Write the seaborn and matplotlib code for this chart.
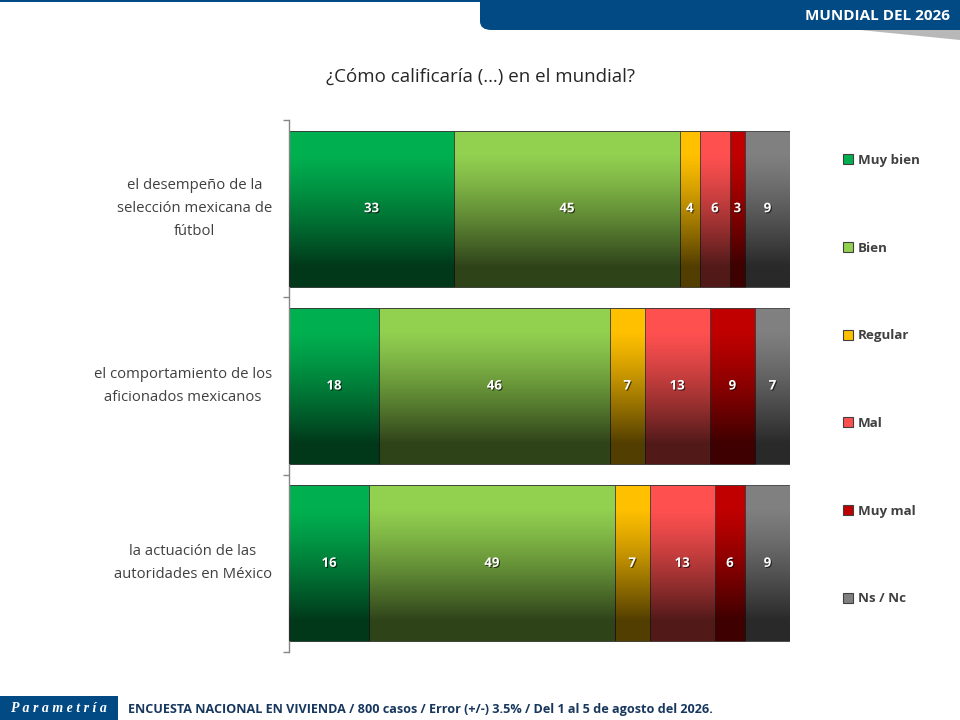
import numpy as np
import pandas as pd
import matplotlib
matplotlib.use("Agg")
import matplotlib.pyplot as plt
import matplotlib.patheffects as pe
from matplotlib.patches import FancyBboxPatch, Rectangle, Patch, Polygon
import seaborn as sns

# data
preguntas = ["el desempeño de la\nselección mexicana de\nfútbol",
             "el comportamiento de los\naficionados mexicanos",
             "la actuación de las\nautoridades en México"]
respuestas = ["Muy bien", "Bien", "Regular", "Mal", "Muy mal", "Ns / Nc"]
muy_bien = [33, 18, 16]
bien = [45, 46, 49]
regular = [4, 7, 7]
mal = [6, 13, 13]
muy_mal = [3, 9, 6]
ns_nc = [9, 7, 9]
colores = ["#00B050", "#92D050", "#FFC000", "#FF5050", "#C00000", "#808080"]

titulo = "¿Cómo calificaría (…) en el mundial?"
banner = "MUNDIAL DEL 2026"
pie = "ENCUESTA NACIONAL EN VIVIENDA / 800 casos / Error (+/-) 3.5% / Del 1 al 5 de agosto del 2026."

df = pd.DataFrame({"pregunta": preguntas, "Muy bien": muy_bien, "Bien": bien,
                   "Regular": regular, "Mal": mal, "Muy mal": muy_mal, "Ns / Nc": ns_nc})
cum = df[respuestas].cumsum(axis=1)

sns.set_style("white")
plt.rcParams["font.family"] = ["Open Sans", "DejaVu Sans"]

fig = plt.figure(figsize=(9.6, 7.2), dpi=100)
fig.patch.set_facecolor("white")

ax = fig.add_axes([289 / 960, 1 - 652 / 720, (790 - 289) / 960, (652 - 120) / 720])
ax.patch.set_alpha(0)

# stacked bars: draw cumulative totals back to front
for r, c in zip(respuestas[::-1], colores[::-1]):
    tmp = pd.DataFrame({"pregunta": preguntas, "valor": cum[r]})
    sns.barplot(data=tmp, x="valor", y="pregunta", color=c, width=0.88,
                saturation=1, errorbar=None, orient="h", ax=ax,
                edgecolor="#3a3a3a", linewidth=0.6)

# darkening gradient over each row
t = np.linspace(0, 1, 256)
alpha = 0.68 * np.clip((t - 0.15) / 0.72, 0, 1) ** 1.2
grad = np.zeros((256, 1, 4))
grad[:, 0, 3] = alpha
for p in ax.containers[0]:
    x0, y0, w, h = p.get_x(), p.get_y(), p.get_width(), p.get_height()
    ax.imshow(grad, extent=(x0, x0 + w, y0 + h, y0), origin="upper",
              aspect="auto", zorder=3, interpolation="bilinear")

ax.set_xlim(0, 100)
ax.set_ylim(2.5, -0.5)

# value labels
for i in range(len(preguntas)):
    for r in respuestas:
        v = df.loc[i, r]
        xc = cum.loc[i, r] - v / 2
        ax.text(xc, i, str(v), ha="center", va="center", color="white",
                fontsize=9.5, fontweight="bold", zorder=5,
                path_effects=[pe.withSimplePatchShadow(offset=(0.8, -0.8),
                                                       shadow_rgbFace="black", alpha=0.6)])
    ax.text(-3.4, i, preguntas[i], ha="right", va="center", multialignment="center",
            fontsize=10.7, color="#404040", linespacing=1.7)

ax.set_xlabel("")
ax.set_ylabel("")
ax.set_xticks([])
ax.set_yticks([-0.5, 0.5, 1.5, 2.5])
ax.set_yticklabels([])
ax.tick_params(axis="y", length=4.5, color="#868686", width=1, left=True)
for s in ["top", "right", "bottom"]:
    ax.spines[s].set_visible(False)
ax.spines["left"].set_color("#868686")
ax.spines["left"].set_linewidth(1)

# legend
handles = [Patch(facecolor=c, edgecolor="#404040", linewidth=0.8) for c in colores]
leg = fig.legend(handles, respuestas, loc="upper left",
                 bbox_to_anchor=(831 / 960, 1 - 142 / 720), frameon=False,
                 handlelength=0.75, handleheight=0.75, handletextpad=0.35,
                 labelspacing=5.6, prop={"weight": "bold", "size": 9.6})
for txt in leg.get_texts():
    txt.set_color("#404040")

# title
fig.text(480 / 960, 1 - 77 / 720, titulo, ha="center", va="center",
         fontsize=13.5, color="#262626")

# top banner
fig.patches.append(Polygon([(860 / 960, 1 - 30 / 720), (960 / 960, 1 - 30 / 720),
                            (960 / 960, 1 - 40 / 720)], closed=True,
                           transform=fig.transFigure, facecolor="#b8b8b8",
                           edgecolor="none", zorder=1))
fig.patches.append(FancyBboxPatch((480 / 960, 1 - 30 / 720), 500 / 960, 40 / 720,
                                  boxstyle="round,pad=0,rounding_size=0.012",
                                  transform=fig.transFigure, facecolor="#024A84",
                                  edgecolor="none", zorder=2))
fig.patches.append(Rectangle((0, 1 - 2 / 720), 1, 2 / 720, transform=fig.transFigure,
                             facecolor="#024A84", edgecolor="none", zorder=2))
fig.text(950 / 960, 1 - 16 / 720, banner, ha="right", va="center", color="white",
         fontsize=11, fontweight="bold", zorder=3)

# footer
fig.patches.append(Rectangle((0, 0), 118 / 960, 24 / 720, transform=fig.transFigure,
                             facecolor="#024A84", edgecolor="none", zorder=2))
fig.text(59 / 960, 12 / 720, "P a r a m e t r í a", ha="center", va="center",
         color="white", fontsize=10, fontweight="bold", style="italic",
         family="Liberation Serif", zorder=3)
fig.text(128 / 960, 10 / 720, pie, ha="left", va="center", color="#17375E",
         fontsize=9.1, fontweight="bold", zorder=3)

fig.savefig("out.png", dpi=100)
